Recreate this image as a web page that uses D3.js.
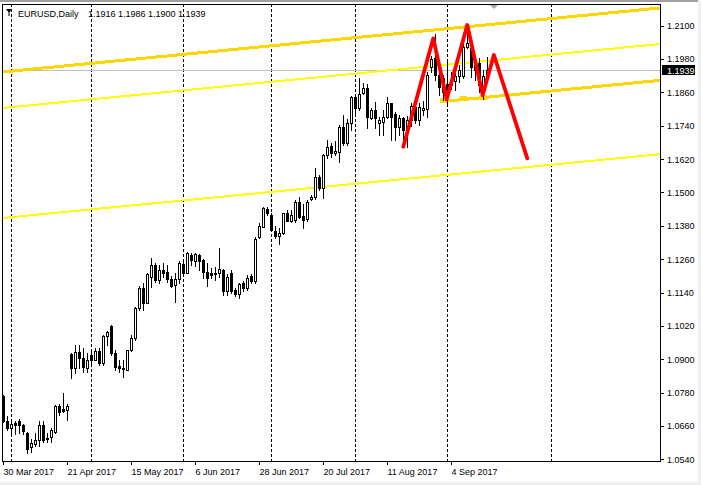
<!DOCTYPE html>
<html><head><meta charset="utf-8">
<script src="https://cdn.jsdelivr.net/npm/d3@7"></script>
<style>html,body{margin:0;padding:0;background:#fff;overflow:hidden}</style>
</head><body><svg id="c" width="701" height="485"></svg>
<script>
// ---------------- data ----------------
const symbol = "EURUSD";
const timeframe = "Daily";
// daily bars, bar index 0 = 30 Mar 2017
const opens = [1.0768,1.0677,1.0652,1.0672,1.0677,1.0662,1.0634,1.0584,1.0594,1.0608,
 1.0662,1.0618,1.0619,1.0638,1.0731,1.0720,1.0717,1.0918,1.0867,1.0925,
 1.0903,1.0869,1.0915,1.0899,1.0929,1.0885,1.0983,1.1019,1.0923,1.0875,
 1.0870,1.0863,1.0933,1.0975,1.1083,1.1158,1.1103,1.1196,1.1238,1.1184,
 1.1220,1.1214,1.1187,1.1167,1.1187,1.1242,1.1211,1.1274,1.1254,1.1275,
 1.1256,1.1214,1.1211,1.1211,1.1212,1.1221,1.1146,1.1209,1.1148,1.1134,
 1.1173,1.1155,1.1199,1.1183,1.1338,1.1377,1.1439,1.1418,1.1362,1.1344,
 1.1353,1.1425,1.1398,1.1400,1.1466,1.1415,1.1403,1.1475,1.1482,1.1556,
 1.1515,1.1634,1.1667,1.1643,1.1646,1.1736,1.1677,1.1749,1.1844,1.1803,
 1.1857,1.1875,1.1769,1.1797,1.1749,1.1754,1.1772,1.1821,1.1782,1.1734,
 1.1767,1.1723,1.1760,1.1809,1.1760,1.1797,1.1799,1.1950,1.1983,1.1923,
 1.1911,1.1890,1.1885,1.1900,1.1918,1.1918,1.2024,1.2019,1.1967,1.1965,
 1.1882,1.1916];
const highs = [1.0772,1.0695,1.0682,1.0677,1.0685,1.0668,1.0640,1.0612,1.0633,1.0679,
 1.0679,1.0635,1.0653,1.0734,1.0738,1.0777,1.0738,1.0921,1.0951,1.0951,
 1.0940,1.0921,1.0929,1.0939,1.0939,1.0987,1.1002,1.1023,1.0932,1.0897,
 1.0897,1.0935,1.0989,1.1088,1.1163,1.1175,1.1211,1.1266,1.1245,1.1238,
 1.1247,1.1238,1.1199,1.1209,1.1254,1.1255,1.1286,1.1283,1.1283,1.1278,
 1.1262,1.1245,1.1227,1.1232,1.1299,1.1223,1.1206,1.1220,1.1155,1.1173,
 1.1181,1.1203,1.1206,1.1340,1.1389,1.1449,1.1449,1.1425,1.1379,1.1371,
 1.1427,1.1437,1.1437,1.1472,1.1484,1.1458,1.1472,1.1490,1.1587,1.1562,
 1.1638,1.1689,1.1677,1.1686,1.1742,1.1779,1.1764,1.1847,1.1856,1.1911,
 1.1893,1.1889,1.1803,1.1827,1.1773,1.1797,1.1844,1.1821,1.1790,1.1779,
 1.1773,1.1774,1.1823,1.1827,1.1822,1.1830,1.1935,1.1990,1.2070,1.1953,
 1.1922,1.1980,1.1933,1.1940,1.1959,1.2055,1.2092,1.2019,1.1983,1.1983,
 1.1940,1.1986];
const lows = [1.0673,1.0647,1.0631,1.0632,1.0633,1.0630,1.0563,1.0566,1.0587,1.0587,
 1.0602,1.0602,1.0602,1.0635,1.0698,1.0710,1.0680,1.0832,1.0852,1.0867,
 1.0854,1.0854,1.0875,1.0897,1.0881,1.0881,1.0951,1.0915,1.0861,1.0854,
 1.0836,1.0861,1.0929,1.0971,1.1077,1.1077,1.1101,1.1160,1.1178,1.1173,
 1.1196,1.1178,1.1160,1.1106,1.1173,1.1205,1.1209,1.1240,1.1235,1.1220,
 1.1194,1.1163,1.1191,1.1185,1.1196,1.1131,1.1131,1.1138,1.1127,1.1120,
 1.1145,1.1148,1.1173,1.1173,1.1335,1.1377,1.1419,1.1362,1.1335,1.1314,
 1.1350,1.1398,1.1394,1.1394,1.1407,1.1371,1.1398,1.1472,1.1475,1.1509,
 1.1479,1.1623,1.1626,1.1634,1.1610,1.1670,1.1670,1.1724,1.1785,1.1797,
 1.1853,1.1731,1.1764,1.1731,1.1707,1.1707,1.1767,1.1689,1.1689,1.1707,
 1.1682,1.1662,1.1738,1.1749,1.1743,1.1780,1.1772,1.1935,1.1905,1.1850,
 1.1833,1.1823,1.1873,1.1868,1.1898,1.1911,1.2020,1.1916,1.1905,1.1862,
 1.1838,1.1900];
const closes = [1.0677,1.0652,1.0666,1.0664,1.0663,1.0642,1.0577,1.0599,1.0608,1.0664,
 1.0611,1.0613,1.0645,1.0732,1.0711,1.0714,1.0731,1.0867,1.0925,1.0903,
 1.0872,1.0897,1.0899,1.0929,1.0885,1.0983,1.0997,1.0921,1.0872,1.0867,
 1.0864,1.0933,1.0975,1.1083,1.1158,1.1103,1.1206,1.1238,1.1184,1.1220,
 1.1209,1.1187,1.1163,1.1187,1.1247,1.1211,1.1281,1.1256,1.1278,1.1254,
 1.1214,1.1194,1.1203,1.1205,1.1223,1.1146,1.1197,1.1145,1.1133,1.1169,
 1.1155,1.1194,1.1181,1.1334,1.1379,1.1443,1.1425,1.1364,1.1344,1.1353,
 1.1425,1.1398,1.1418,1.1466,1.1412,1.1400,1.1466,1.1482,1.1554,1.1515,
 1.1635,1.1662,1.1641,1.1650,1.1736,1.1677,1.1749,1.1844,1.1803,1.1853,
 1.1875,1.1770,1.1797,1.1767,1.1761,1.1772,1.1821,1.1772,1.1734,1.1767,
 1.1723,1.1760,1.1812,1.1760,1.1806,1.1804,1.1923,1.1980,1.1923,1.1880,
 1.1862,1.1860,1.1895,1.1918,1.1941,1.2024,1.2036,1.1950,1.1940,1.1886,
 1.1919,1.1939];

const dateLabels = ["30 Mar 2017","21 Apr 2017","15 May 2017","6 Jun 2017","28 Jun 2017","20 Jul 2017","11 Aug 2017","4 Sep 2017"];
const dateLabelBars = [0,16,32,48,64,80,96,112];
const separatorBars = [2,22,45,67,88,111,137];   // month period separators
const priceTicks = [1.2100,1.1980,1.1860,1.1740,1.1620,1.1500,1.1380,1.1260,1.1140,1.1020,1.0900,1.0780,1.0660,1.0540];
const bidPrice = 1.1939;

// trend lines: [bar, price] anchor pairs
const lineUpper = [[0,1.19338],[160,1.21580]];     // gold, thick
const lineUpper2 = [[0,1.18044],[160,1.20284]];    // yellow, thin
const lineNeck = [[110,1.18275],[120,1.18415]];    // gold, thick ray (selected)
const lineLower = [[0,1.14085],[160,1.16320]];     // yellow, thin
const zigzag = [[99.95,1.16644],[107.45,1.20546],[110.8,1.18350],[115.95,1.21025],[119.8,1.18505],[122.6,1.19945],[130.95,1.16226]];

// ---------------- drawing ----------------
const W = 701, H = 485;
const L = 2, R = 660, T = 4, B = 461;
const FONT = "'Liberation Sans', Arial, sans-serif";
const svg = d3.select("#c");
svg.append("rect").attr("width",W).attr("height",H).attr("fill","#fff");
// window edges
svg.append("rect").attr("x",0).attr("y",0).attr("width",W).attr("height",2).attr("fill","#a0a0a0");
svg.append("rect").attr("x",0).attr("y",482).attr("width",W).attr("height",3).attr("fill","#f0f0f0");
svg.append("rect").attr("x",698).attr("y",0).attr("width",3).attr("height",H).attr("fill","#f0f0f0");

const x = d3.scaleLinear().domain([0,121]).range([3.5, 3.5+4*121]);
const y = d3.scaleLinear().domain([1.0540,1.2100]).range([459.3,25.7]);

svg.append("defs").append("clipPath").attr("id","plot")
  .append("rect").attr("x",L+1).attr("y",T+1).attr("width",R-L-1).attr("height",B-T-1);

const plot = svg.append("g").attr("clip-path","url(#plot)");

// period separators
plot.selectAll("line.sep").data(separatorBars).join("line").attr("class","sep")
  .attr("x1",d=>x(d)).attr("x2",d=>x(d)).attr("y1",T).attr("y2",B)
  .attr("stroke","#000").attr("stroke-width",1).attr("stroke-dasharray","3,2")
  .attr("shape-rendering","crispEdges");

// bid line
plot.append("line").attr("x1",L).attr("x2",R).attr("y1",Math.round(y(bidPrice))+0.5).attr("y2",Math.round(y(bidPrice))+0.5)
  .attr("stroke","#c0c0c0").attr("stroke-width",1).attr("shape-rendering","crispEdges");

// trend lines
function extLine(pts, i0, i1){
  const [a,b] = pts; const s = (b[1]-a[1])/(b[0]-a[0]);
  return [[i0, a[1]+s*(i0-a[0])],[i1, a[1]+s*(i1-a[0])]];
}
const lineGen = d3.line().x(d=>x(d[0])).y(d=>y(d[1]));
function drawLine(pts, color, width){
  plot.append("path").attr("d",lineGen(pts)).attr("fill","none")
    .attr("stroke",color).attr("stroke-width",width).attr("shape-rendering","crispEdges");
}
drawLine(extLine(lineUpper,-3,170),"#ffd700",3);
drawLine(extLine(lineUpper2,-3,170),"#ffff00",2);
drawLine(extLine(lineLower,-3,170),"#ffff00",2);
drawLine(extLine(lineNeck,lineNeck[0][0],170),"#ffd700",3);
// selection handles of neck line
const neckMid = [(lineNeck[0][0]+lineNeck[1][0])/2,(lineNeck[0][1]+lineNeck[1][1])/2];
plot.selectAll("rect.h").data([lineNeck[0],neckMid,lineNeck[1]]).join("rect").attr("class","h")
  .attr("x",d=>Math.round(x(d[0]))-4).attr("y",d=>Math.round(y(d[1]))-3).attr("width",7).attr("height",5)
  .attr("fill","#ffd700");

// candles
const bars = closes.map((c,i)=>({i,o:opens[i],h:highs[i],l:lows[i],c}));
const cg = plot.append("g").attr("shape-rendering","crispEdges");
cg.selectAll("line.w").data(bars).join("line").attr("class","w")
  .attr("x1",d=>x(d.i)).attr("x2",d=>x(d.i))
  .attr("y1",d=>Math.round(y(d.h))).attr("y2",d=>Math.round(y(d.l))+1)
  .attr("stroke","#000");
cg.selectAll("rect.b").data(bars).join("rect").attr("class","b")
  .attr("x",d=>x(d.i)-1).attr("width",2)
  .attr("y",d=>Math.round(y(Math.max(d.o,d.c)))+0.5)
  .attr("height",d=>Math.max(1,Math.round(y(Math.min(d.o,d.c)))-Math.round(y(Math.max(d.o,d.c)))))
  .attr("fill",d=>d.c>=d.o?"#fff":"#000").attr("stroke","#000");

// red zigzag
plot.append("path").attr("d",d3.line().x(d=>x(d[0])).y(d=>y(d[1]))(zigzag))
  .attr("fill","none").attr("stroke","#ff0000").attr("stroke-width",3.8)
  .attr("stroke-linejoin","round").attr("stroke-linecap","round");

// frame
svg.append("rect").attr("x",L+0.5).attr("y",T+0.5).attr("width",R-L).attr("height",B-T)
  .attr("fill","none").attr("stroke","#000").attr("shape-rendering","crispEdges");

// price axis
const ya = svg.append("g").attr("transform",`translate(${R+1},0)`)
  .call(d3.axisRight(y).tickValues(priceTicks).tickSize(3).tickPadding(3).tickFormat(d3.format(".4f")));
ya.select(".domain").remove();
ya.selectAll("text").attr("font-family",FONT).attr("font-size",9).attr("fill","#000");
ya.selectAll("line").attr("shape-rendering","crispEdges");

// bid label
const by = Math.round(y(bidPrice));
svg.append("rect").attr("x",662).attr("y",by-5).attr("width",33).attr("height",10).attr("fill","#000");
svg.append("text").attr("x",667).attr("y",by+3.5).attr("font-family",FONT).attr("font-size",9)
  .attr("fill","#fff").text(d3.format(".4f")(bidPrice));

// time axis
const xa = svg.append("g").attr("transform",`translate(0,${B+1})`)
  .call(d3.axisBottom(x).tickValues(dateLabelBars).tickSize(3).tickPadding(3.5).offset(0)
    .tickFormat((d,k)=>dateLabels[k]));
xa.select(".domain").remove();
xa.selectAll("text").attr("text-anchor","start").attr("x",0).attr("font-family",FONT).attr("font-size",9).attr("fill","#000");
xa.selectAll("line").attr("shape-rendering","crispEdges");

// chart shift marker
const shiftX = Math.round(x(122.6));
svg.append("path").attr("d",`M${shiftX-4},5 L${shiftX+4},5 L${shiftX},9 Z`).attr("fill","#a8a8a8");

// title
svg.append("path").attr("d","M6,9 L12,9 L9,13 Z M8.5,12 L9.5,12 L9.5,16 L8.5,16 Z").attr("fill","#000");
svg.append("text").attr("x",18).attr("y",16.5).attr("font-family",FONT).attr("font-size",9).attr("fill","#000")
  .text(symbol+","+timeframe);
const last = bars[bars.length-1];
svg.append("text").attr("x",88).attr("y",16.5).attr("font-family",FONT).attr("font-size",9).attr("fill","#000")
  .text([last.o,last.h,last.l,last.c].map(d3.format(".4f")).join(" "));
</script></body></html>
